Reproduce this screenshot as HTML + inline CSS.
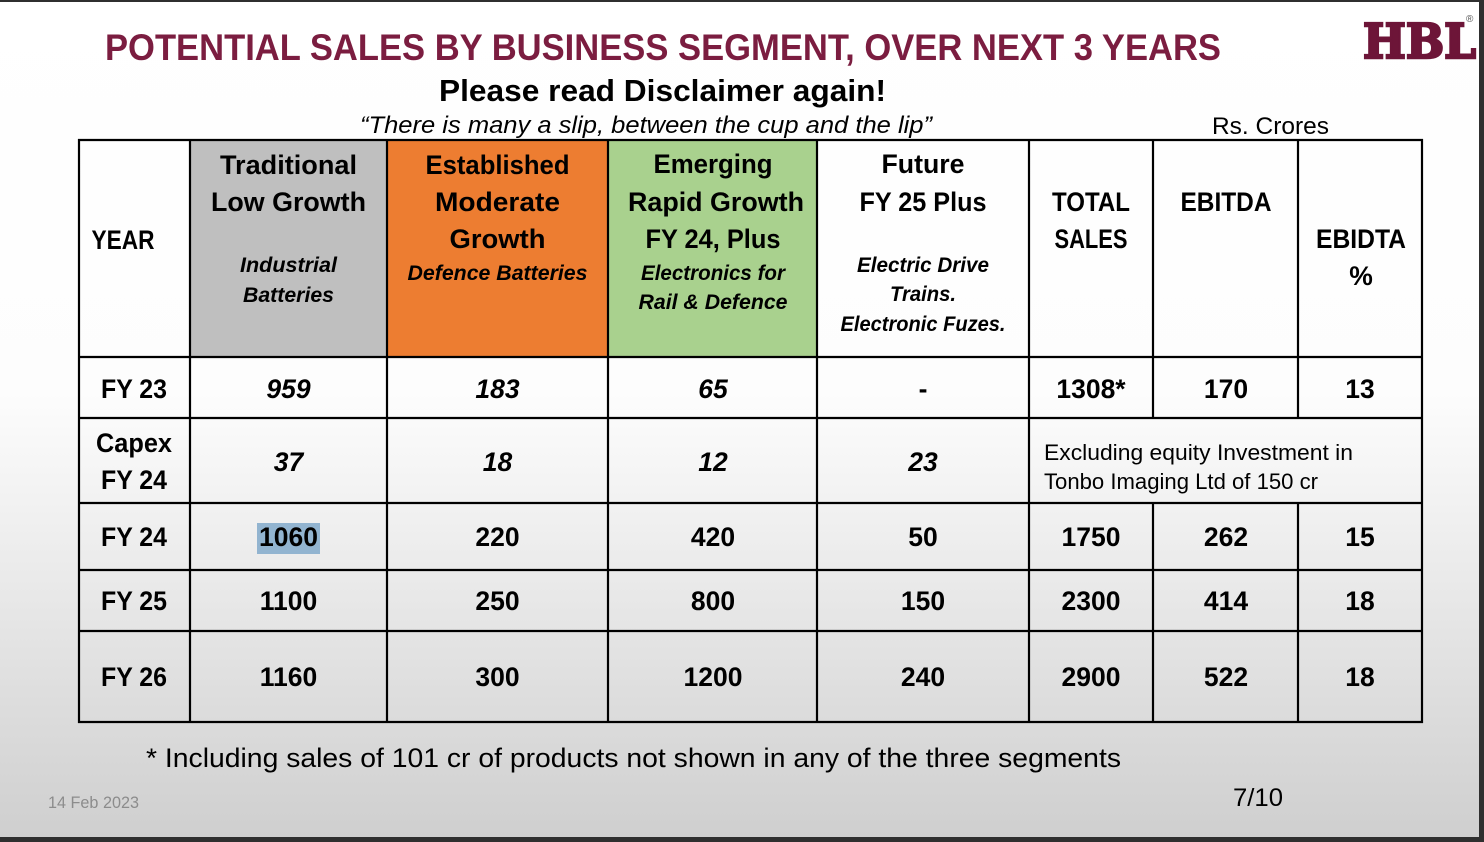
<!DOCTYPE html>
<html>
<head>
<meta charset="utf-8">
<style>
  html,body{margin:0;padding:0;background:#fff;}
  svg{display:block;}
  .b{font-family:"Liberation Sans",sans-serif;font-weight:bold;fill:#000;}
  .bi{font-family:"Liberation Sans",sans-serif;font-weight:bold;font-style:italic;fill:#000;}
  .r{font-family:"Liberation Sans",sans-serif;fill:#000;}
</style>
</head>
<body>
<svg width="1484" height="842" viewBox="0 0 1484 842" xmlns="http://www.w3.org/2000/svg">
  <defs>
    <linearGradient id="bg" gradientUnits="userSpaceOnUse" x1="0" y1="0" x2="0" y2="837">
      <stop offset="0" stop-color="#ffffff"/>
      <stop offset="0.47" stop-color="#fdfdfd"/>
      <stop offset="1" stop-color="#cfcfcf"/>
    </linearGradient>
  </defs>
  <rect x="0" y="0" width="1484" height="842" fill="url(#bg)"/>

  <!-- frame -->
  <rect x="0" y="0" width="1484" height="2" fill="#2f2f2f"/>
  <rect x="1479" y="0" width="5" height="842" fill="#2f2f2f"/>
  <rect x="0" y="837" width="1484" height="5" fill="#2f2f2f"/>

  <!-- title -->
  <text x="105" y="60" class="b" style="fill:#7b1d40" font-size="37.5" textLength="1116" lengthAdjust="spacingAndGlyphs">POTENTIAL SALES BY BUSINESS SEGMENT, OVER NEXT 3 YEARS</text>
  <text x="439" y="101" class="b" font-size="30.5" textLength="447" lengthAdjust="spacingAndGlyphs">Please read Disclaimer again!</text>
  <text x="360" y="133" font-family="Liberation Sans, sans-serif" font-style="italic" font-size="24" textLength="572" lengthAdjust="spacingAndGlyphs">“There is many a slip, between the cup and the lip”</text>
  <text x="1212" y="134" class="r" font-size="24" textLength="117" lengthAdjust="spacingAndGlyphs">Rs.  Crores</text>

  <!-- logo -->
  <text x="1363" y="58" font-family="DejaVu Serif, Liberation Serif, serif" font-weight="bold" font-size="48" fill="#6d1538" stroke="#6d1538" stroke-width="2.5" textLength="113" lengthAdjust="spacingAndGlyphs">HBL</text>
  <text x="1466" y="22" font-family="Liberation Sans, sans-serif" font-size="10" fill="#555">®</text>

  <!-- header fills -->
  <rect x="190" y="140" width="197" height="217" fill="#bfbfbf"/>
  <rect x="387" y="140" width="221" height="217" fill="#ed7d31"/>
  <rect x="608" y="140" width="209" height="217" fill="#a9d18e"/>

  <!-- highlight -->
  <rect x="257" y="523" width="63" height="31" fill="#92b4d0"/>

  <!-- grid lines -->
  <g stroke="#000" stroke-width="2.2" fill="none">
    <line x1="78" y1="140" x2="1423" y2="140"/>
    <line x1="78" y1="357" x2="1423" y2="357"/>
    <line x1="78" y1="418" x2="1423" y2="418"/>
    <line x1="78" y1="503" x2="1423" y2="503"/>
    <line x1="78" y1="570" x2="1423" y2="570"/>
    <line x1="78" y1="631" x2="1423" y2="631"/>
    <line x1="78" y1="722" x2="1423" y2="722"/>
    <line x1="79" y1="139" x2="79" y2="723"/>
    <line x1="190" y1="139" x2="190" y2="723"/>
    <line x1="387" y1="139" x2="387" y2="723"/>
    <line x1="608" y1="139" x2="608" y2="723"/>
    <line x1="817" y1="139" x2="817" y2="723"/>
    <line x1="1029" y1="139" x2="1029" y2="723"/>
    <line x1="1153" y1="139" x2="1153" y2="418"/>
    <line x1="1153" y1="503" x2="1153" y2="723"/>
    <line x1="1298" y1="139" x2="1298" y2="418"/>
    <line x1="1298" y1="503" x2="1298" y2="723"/>
    <line x1="1422" y1="139" x2="1422" y2="723"/>
  </g>

  <!-- header text -->
  <g text-anchor="middle">
    <text x="123" y="249" class="b" font-size="26.5" textLength="63" lengthAdjust="spacingAndGlyphs">YEAR</text>

    <text x="288.5" y="174" class="b" font-size="26.5" textLength="137" lengthAdjust="spacingAndGlyphs">Traditional</text>
    <text x="288.5" y="211" class="b" font-size="26.5" textLength="155" lengthAdjust="spacingAndGlyphs">Low Growth</text>
    <text x="288.5" y="272" class="bi" font-size="21.5" textLength="97" lengthAdjust="spacingAndGlyphs">Industrial</text>
    <text x="288.5" y="302" class="bi" font-size="21.5" textLength="91" lengthAdjust="spacingAndGlyphs">Batteries</text>

    <text x="497.5" y="174" class="b" font-size="26.5" textLength="144" lengthAdjust="spacingAndGlyphs">Established</text>
    <text x="497.5" y="211" class="b" font-size="26.5" textLength="125" lengthAdjust="spacingAndGlyphs">Moderate</text>
    <text x="497.5" y="248" class="b" font-size="26.5" textLength="96" lengthAdjust="spacingAndGlyphs">Growth</text>
    <text x="497.5" y="280" class="bi" font-size="21.5" textLength="180" lengthAdjust="spacingAndGlyphs">Defence Batteries</text>

    <text x="713" y="173" class="b" font-size="26.5" textLength="119" lengthAdjust="spacingAndGlyphs">Emerging</text>
    <text x="716" y="211" class="b" font-size="26.5" textLength="176" lengthAdjust="spacingAndGlyphs">Rapid Growth</text>
    <text x="713" y="248" class="b" font-size="26.5" textLength="135" lengthAdjust="spacingAndGlyphs">FY 24, Plus</text>
    <text x="713" y="280" class="bi" font-size="21.5" textLength="144" lengthAdjust="spacingAndGlyphs">Electronics for</text>
    <text x="713" y="309" class="bi" font-size="21.5" textLength="149" lengthAdjust="spacingAndGlyphs">Rail &amp; Defence</text>

    <text x="923" y="173" class="b" font-size="26.5" textLength="83" lengthAdjust="spacingAndGlyphs">Future</text>
    <text x="923" y="211" class="b" font-size="26.5" textLength="127" lengthAdjust="spacingAndGlyphs">FY 25 Plus</text>
    <text x="923" y="272" class="bi" font-size="21.5" textLength="132" lengthAdjust="spacingAndGlyphs">Electric Drive</text>
    <text x="923" y="301" class="bi" font-size="21.5" textLength="66" lengthAdjust="spacingAndGlyphs">Trains.</text>
    <text x="923" y="331" class="bi" font-size="21.5" textLength="165" lengthAdjust="spacingAndGlyphs">Electronic Fuzes.</text>

    <text x="1091" y="211" class="b" font-size="26.5" textLength="78" lengthAdjust="spacingAndGlyphs">TOTAL</text>
    <text x="1091" y="248" class="b" font-size="26.5" textLength="73" lengthAdjust="spacingAndGlyphs">SALES</text>
    <text x="1226" y="211" class="b" font-size="26.5" textLength="91" lengthAdjust="spacingAndGlyphs">EBITDA</text>
    <text x="1361" y="248" class="b" font-size="26.5" textLength="90" lengthAdjust="spacingAndGlyphs">EBIDTA</text>
    <text x="1361" y="285" class="b" font-size="26.5">%</text>
  </g>

  <!-- body -->
  <g text-anchor="middle" font-size="26.5">
    <!-- FY 23 -->
    <text x="134" y="398" class="b" textLength="66" lengthAdjust="spacingAndGlyphs">FY 23</text>
    <text x="288.5" y="398" class="bi">959</text>
    <text x="497.5" y="398" class="bi">183</text>
    <text x="713" y="398" class="bi">65</text>
    <text x="923" y="398" class="b">-</text>
    <text x="1091" y="398" class="b">1308*</text>
    <text x="1226" y="398" class="b">170</text>
    <text x="1360" y="398" class="b">13</text>

    <!-- Capex -->
    <text x="134" y="452" class="b" textLength="76" lengthAdjust="spacingAndGlyphs">Capex</text>
    <text x="134" y="489" class="b" textLength="66" lengthAdjust="spacingAndGlyphs">FY 24</text>
    <text x="288.5" y="471" class="bi">37</text>
    <text x="497.5" y="471" class="bi">18</text>
    <text x="713" y="471" class="bi">12</text>
    <text x="923" y="471" class="bi">23</text>

    <!-- FY 24 -->
    <text x="134" y="546" class="b" textLength="66" lengthAdjust="spacingAndGlyphs">FY 24</text>
    <text x="288.5" y="546" class="b">1060</text>
    <text x="497.5" y="546" class="b">220</text>
    <text x="713" y="546" class="b">420</text>
    <text x="923" y="546" class="b">50</text>
    <text x="1091" y="546" class="b">1750</text>
    <text x="1226" y="546" class="b">262</text>
    <text x="1360" y="546" class="b">15</text>

    <!-- FY 25 -->
    <text x="134" y="610" class="b" textLength="66" lengthAdjust="spacingAndGlyphs">FY 25</text>
    <text x="288.5" y="610" class="b">1100</text>
    <text x="497.5" y="610" class="b">250</text>
    <text x="713" y="610" class="b">800</text>
    <text x="923" y="610" class="b">150</text>
    <text x="1091" y="610" class="b">2300</text>
    <text x="1226" y="610" class="b">414</text>
    <text x="1360" y="610" class="b">18</text>

    <!-- FY 26 -->
    <text x="134" y="686" class="b" textLength="66" lengthAdjust="spacingAndGlyphs">FY 26</text>
    <text x="288.5" y="686" class="b">1160</text>
    <text x="497.5" y="686" class="b">300</text>
    <text x="713" y="686" class="b">1200</text>
    <text x="923" y="686" class="b">240</text>
    <text x="1091" y="686" class="b">2900</text>
    <text x="1226" y="686" class="b">522</text>
    <text x="1360" y="686" class="b">18</text>
  </g>

  <text x="1044" y="460" class="r" font-size="22" textLength="309" lengthAdjust="spacingAndGlyphs">Excluding  equity Investment in</text>
  <text x="1044" y="489" class="r" font-size="22" textLength="274" lengthAdjust="spacingAndGlyphs">Tonbo Imaging Ltd of 150 cr</text>

  <!-- footer -->
  <text x="146" y="767" class="r" font-size="27" textLength="975" lengthAdjust="spacingAndGlyphs">* Including sales of 101 cr of products not shown in any of the three segments</text>
  <text x="48" y="808" font-family="Liberation Sans, sans-serif" font-size="16.5" fill="#8c8c8c" textLength="91" lengthAdjust="spacingAndGlyphs">14 Feb 2023</text>
  <text x="1233" y="806" class="r" font-size="25" textLength="50" lengthAdjust="spacingAndGlyphs">7/10</text>
</svg>
</body>
</html>
